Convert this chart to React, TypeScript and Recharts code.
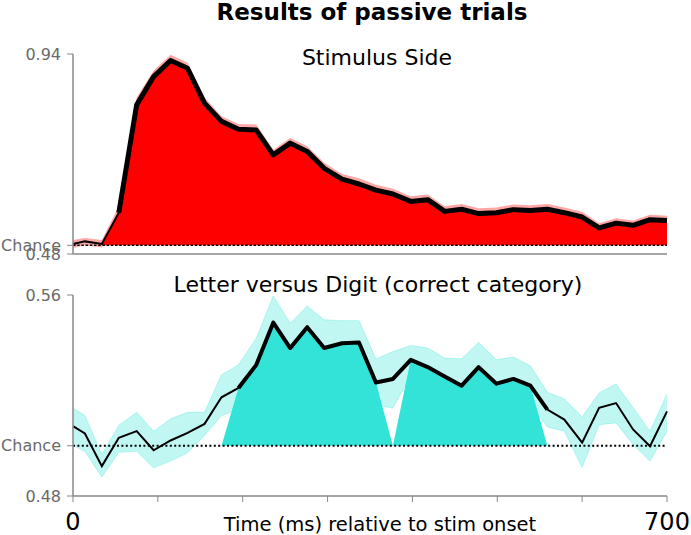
import { ComposedChart, Area, Line, XAxis, YAxis, ReferenceLine } from "recharts";

const CHANCE = 0.5;

// time points (ms after stim onset)
const times = [
  0, 14, 34, 54, 75, 95, 115, 135, 155, 175, 195, 216, 236, 256, 276, 296, 317, 337,
  357, 377, 398, 418, 438, 458, 478, 499, 519, 539, 559, 579, 600, 620, 640, 660, 680, 700,
];
const xTicks = [0, 100, 200, 300, 400, 500, 600, 700];

// Stimulus side decoding
const sideMean = [
  0.503, 0.509, 0.503, 0.575, 0.823, 0.888, 0.925, 0.907, 0.827, 0.785, 0.767, 0.765,
  0.708, 0.735, 0.716, 0.677, 0.652, 0.641, 0.627, 0.618, 0.601, 0.605, 0.578, 0.583,
  0.573, 0.575, 0.582, 0.58, 0.583, 0.575, 0.565, 0.54, 0.551, 0.546, 0.559, 0.557,
];
const sideUpper = [
  0.512, 0.517, 0.512, 0.59, 0.84, 0.902, 0.938, 0.92, 0.84, 0.797, 0.779, 0.778,
  0.72, 0.747, 0.728, 0.69, 0.664, 0.654, 0.639, 0.63, 0.613, 0.617, 0.59, 0.595,
  0.585, 0.587, 0.594, 0.592, 0.595, 0.587, 0.577, 0.551, 0.562, 0.557, 0.57, 0.568,
];
const sideLower = [
  0.494, 0.5, 0.495, 0.56, 0.805, 0.873, 0.912, 0.894, 0.814, 0.773, 0.755, 0.752,
  0.696, 0.723, 0.704, 0.664, 0.64, 0.628, 0.615, 0.606, 0.589, 0.593, 0.566, 0.571,
  0.561, 0.563, 0.57, 0.568, 0.571, 0.563, 0.553, 0.529, 0.54, 0.535, 0.548, 0.546,
];
const sideSig = [
  0, 0, 0, 1, 1, 1, 1, 1, 1, 1, 1, 1, 1, 1, 1, 1, 1, 1,
  1, 1, 1, 1, 1, 1, 1, 1, 1, 1, 1, 1, 1, 1, 1, 1, 1, 1,
];

// Letter vs digit decoding
const letterMean = [
  0.5078, 0.5049, 0.4919, 0.5032, 0.5058, 0.4982, 0.5021, 0.5051, 0.5087, 0.5193, 0.523,
  0.5322, 0.549, 0.5389, 0.5472, 0.5389, 0.5408, 0.5411, 0.5252, 0.5266, 0.5342, 0.5313,
  0.5276, 0.5239, 0.5313, 0.5247, 0.5266, 0.5239, 0.5144, 0.5104, 0.5012, 0.5151, 0.517,
  0.5065, 0.4998, 0.5137,
];
const letterUpper = [
  0.515, 0.512, 0.4965, 0.5082, 0.5133, 0.5058, 0.5107, 0.5133, 0.5133, 0.5283, 0.5322,
  0.5428, 0.5596, 0.5488, 0.5556, 0.5501, 0.5498, 0.5498, 0.5345, 0.5375, 0.5399, 0.5389,
  0.5349, 0.5346, 0.5412, 0.5342, 0.5353, 0.5318, 0.5213, 0.5186, 0.5115, 0.521, 0.5246,
  0.5151, 0.5058, 0.5206,
];
const letterLower = [
  0.5001, 0.4978, 0.4875, 0.4974, 0.4978, 0.4912, 0.4939, 0.4972, 0.5041, 0.512, 0.5145,
  0.522, 0.538, 0.529, 0.539, 0.528, 0.532, 0.532, 0.516, 0.515, 0.528, 0.524,
  0.52, 0.513, 0.521, 0.515, 0.518, 0.516, 0.5075, 0.5058, 0.4913, 0.5084, 0.5091,
  0.5005, 0.4939, 0.5058,
];
const letterSig = [
  0, 0, 0, 0, 0, 0, 0, 0, 0, 0, 1, 1, 1, 1, 1, 1, 1, 1,
  1, 0, 1, 1, 1, 1, 1, 1, 1, 1, 0, 0, 0, 0, 0, 0, 0, 0,
];

function buildRows(mean: number[], lower: number[], upper: number[], sig: number[]) {
  return times.map((t, i) => {
    const on = sig[i] === 1;
    const prev = i > 0 && sig[i - 1] === 1;
    const next = i < sig.length - 1 && sig[i + 1] === 1;
    return {
      t,
      mean: mean[i],
      band: [lower[i], upper[i]],
      fill: on ? mean[i] : prev || next ? CHANCE : null,
      bold: on || prev ? mean[i] : null,
    };
  });
}

const sideRows = buildRows(sideMean, sideLower, sideUpper, sideSig);
const letterRows = buildRows(letterMean, letterLower, letterUpper, letterSig);

const GREY = "#888888";
const tickText = { fontSize: 16, fill: "#6a6a6a" };
const yLabel = (v: number) => (v === CHANCE ? "Chance" : v.toFixed(2));

const App = () => {
  return (
    <div
      style={{
        position: "absolute",
        left: 0,
        top: 0,
        width: 691,
        height: 535,
        background: "#fff",
        fontFamily: "'DejaVu Sans', sans-serif",
      }}
    >
      <div style={{ position: "absolute", left: 0, top: 0 }}>
        <ComposedChart width={691} height={270} data={sideRows} margin={{ top: 54, right: 24, bottom: 16, left: 13 }}>
          <XAxis dataKey="t" type="number" domain={[0, 700]} hide />
          <YAxis
            type="number"
            domain={[0.48, 0.94]}
            ticks={[0.48, 0.5, 0.94]}
            interval={0}
            allowDataOverflow
            width={60}
            tickSize={6}
            tickMargin={6}
            tickFormatter={yLabel}
            tick={tickText}
            tickLine={{ stroke: GREY }}
            axisLine={{ stroke: GREY, strokeWidth: 1.5 }}
          />
          <Area
            type="linear"
            dataKey="band"
            fill="#ff0000"
            fillOpacity={0.35}
            stroke="none"
            isAnimationActive={false}
          />
          <Area
            type="linear"
            dataKey="fill"
            baseValue={CHANCE}
            fill="#ff0000"
            fillOpacity={1}
            stroke="none"
            isAnimationActive={false}
          />
          <ReferenceLine y={0.48} stroke={GREY} strokeWidth={1.5} />
          <ReferenceLine y={CHANCE} stroke="#000" strokeWidth={1.5} strokeDasharray="2.5 1.7" />
          <Line type="linear" dataKey="mean" stroke="#000" strokeWidth={2} dot={false} isAnimationActive={false} />
          <Line
            type="linear"
            dataKey="bold"
            stroke="#000"
            strokeWidth={5}
            strokeLinejoin="round"
            dot={false}
            isAnimationActive={false}
          />
        </ComposedChart>
      </div>

      <div style={{ position: "absolute", left: 0, top: 270 }}>
        <ComposedChart width={691} height={265} data={letterRows} margin={{ top: 25, right: 24, bottom: 0, left: 13 }}>
          <XAxis
            dataKey="t"
            type="number"
            domain={[0, 700]}
            ticks={xTicks}
            interval={0}
            height={39}
            tickSize={6}
            tickMargin={11}
            tickFormatter={(v: number) => (v === 0 || v === 700 ? String(v) : "")}
            tick={{ fontSize: 24, fill: "#000" }}
            tickLine={{ stroke: GREY }}
            axisLine={{ stroke: GREY, strokeWidth: 1.5 }}
          />
          <YAxis
            type="number"
            domain={[0.48, 0.56]}
            ticks={[0.48, 0.5, 0.56]}
            interval={0}
            allowDataOverflow
            width={60}
            tickSize={6}
            tickMargin={6}
            tickFormatter={yLabel}
            tick={tickText}
            tickLine={{ stroke: GREY }}
            axisLine={{ stroke: GREY, strokeWidth: 1.5 }}
          />
          <Area
            type="linear"
            dataKey="band"
            fill="#33e3d8"
            fillOpacity={0.3}
            stroke="#33e3d8"
            strokeOpacity={0.3}
            isAnimationActive={false}
          />
          <Area
            type="linear"
            dataKey="fill"
            baseValue={CHANCE}
            fill="#33e3d8"
            fillOpacity={1}
            stroke="none"
            isAnimationActive={false}
          />
          <ReferenceLine y={CHANCE} stroke="#000" strokeWidth={2} strokeDasharray="2 2.4" />
          <Line type="linear" dataKey="mean" stroke="#000" strokeWidth={2} dot={false} isAnimationActive={false} />
          <Line
            type="linear"
            dataKey="bold"
            stroke="#000"
            strokeWidth={4}
            strokeLinejoin="round"
            dot={false}
            isAnimationActive={false}
          />
        </ComposedChart>
      </div>

      <svg width={691} height={535} style={{ position: "absolute", left: 0, top: 0, pointerEvents: "none" }}>
        <text x={372} y={20} textAnchor="middle" fontSize={23} fontWeight="bold" fill="#000">
          Results of passive trials
        </text>
        <text x={377} y={65} textAnchor="middle" fontSize={22} fill="#000">
          Stimulus Side
        </text>
        <text x={378} y={292} textAnchor="middle" fontSize={22} fill="#000">
          Letter versus Digit (correct category)
        </text>
        <text x={380} y={531} textAnchor="middle" fontSize={19.5} fill="#000">
          Time (ms) relative to stim onset
        </text>
      </svg>
    </div>
  );
};

export default App;
